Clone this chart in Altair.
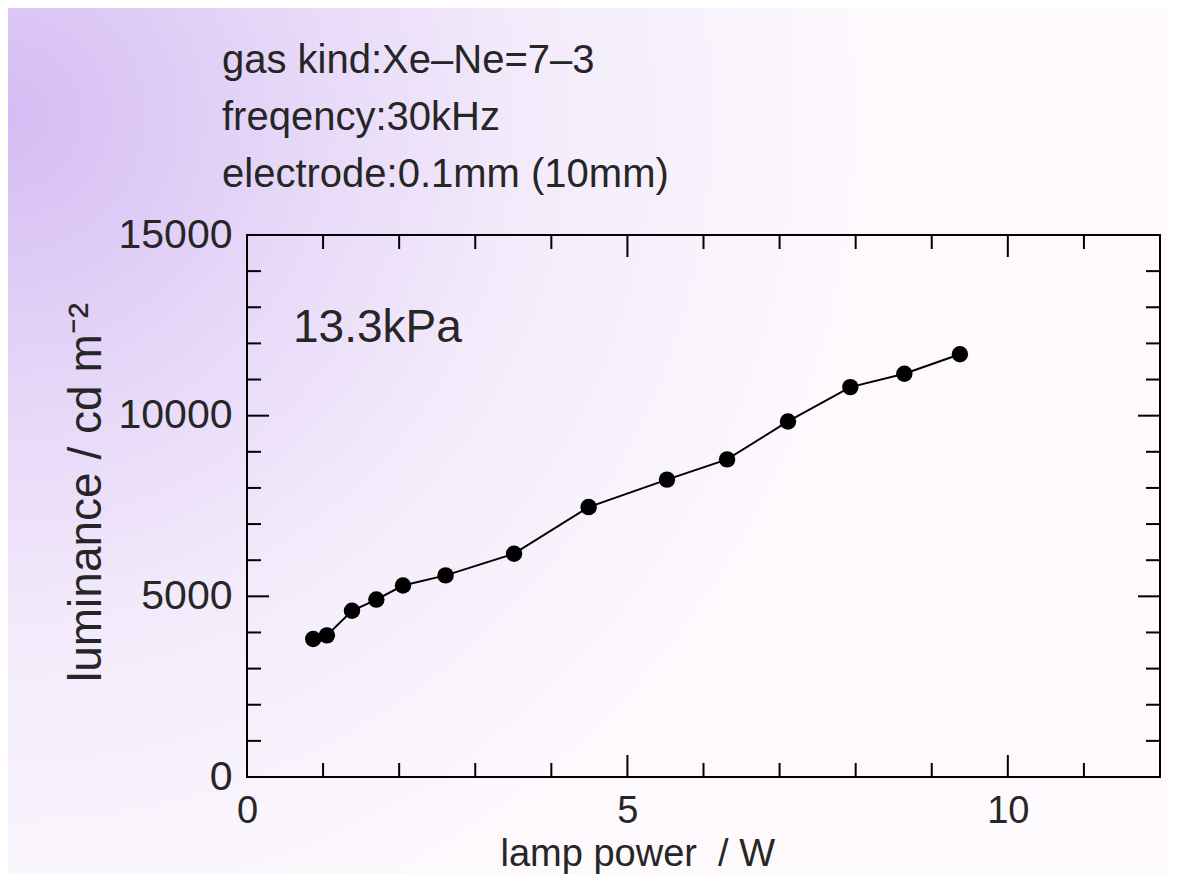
import altair as alt
import pandas as pd

# ---- data ----
power = [0.87, 1.05, 1.38, 1.70, 2.05, 2.61, 3.51, 4.49, 5.52, 6.31, 7.11, 7.93, 8.64, 9.37]
luminance = [3820, 3920, 4600, 4910, 5300, 5580, 6180, 7470, 8230, 8790, 9840, 10790, 11160, 11700]

x_labels = [0, 5, 10]
y_labels = [0, 5000, 10000, 15000]
x_ticks_major = [0, 5, 10]
x_ticks_minor = [1, 2, 3, 4, 6, 7, 8, 9, 11]
y_ticks_major = [0, 5000, 10000, 15000]
y_ticks_minor = [1000, 2000, 3000, 4000, 6000, 7000, 8000, 9000, 11000, 12000, 13000, 14000]

info_lines = ["gas kind:Xe\u2013Ne=7\u20133", "freqency:30kHz", "electrode:0.1mm (10mm)"]
pressure_label = "13.3kPa"
x_title = "lamp power\u00a0 / W"
y_title = "luminance / cd m\u207b\u00b2"

# ---- layout / style ----
W, H = 913, 542
PAD = {"left": 239, "top": 227, "right": 8, "bottom": 97}
FONT = "Liberation Sans"
TXT = "#262626"
MAJ, MIN = 22, 14

df = pd.DataFrame({"power": power, "luminance": luminance})
xscale = alt.Scale(domain=[0, 12], nice=False, zero=False)
yscale = alt.Scale(domain=[0, 15000], nice=False)

x_axis = alt.Axis(
    values=x_labels, ticks=False, domain=False, grid=False,
    labelFont=FONT, labelFontSize=38, labelColor=TXT, labelPadding=15,
    labelFlush=False, labelOverlap=False,
    title=x_title, titleFont=FONT, titleFontSize=38, titleFontWeight="normal",
    titleColor=TXT, titleX=253, titleY=88, titleAlign="left",
    titleBaseline="alphabetic", zindex=2,
)
y_axis = alt.Axis(
    values=y_labels, format="d", ticks=False, domain=False, grid=False,
    labelFont=FONT, labelFontSize=41, labelColor=TXT, labelPadding=15,
    labelFlush=False, labelOverlap=False,
    title=y_title, titleFont=FONT, titleFontSize=46, titleFontWeight="normal",
    titleColor=TXT, titleX=-147, titleY=257, titleAlign="center",
    titleBaseline="alphabetic", zindex=2,
)

def X():
    return alt.X("power:Q", scale=xscale, axis=x_axis)

def Y():
    return alt.Y("luminance:Q", scale=yscale, axis=y_axis)

one = alt.Data(values=[{"a": 1}])

background = alt.Chart(one).mark_rect(
    color=alt.Gradient(
        gradient="radial",
        x1=0.0, y1=0.22, r1=0.0,
        x2=0.0, y2=0.22, r2=0.75,
        stops=[
            alt.GradientStop(offset=0, color="#d5bcf3"),
            alt.GradientStop(offset=0.3, color="#e5d5f8"),
            alt.GradientStop(offset=0.6, color="#f3ebfb"),
            alt.GradientStop(offset=1, color="#fdf9fd"),
        ],
    )
).encode(
    x=alt.value(-PAD["left"]), x2=alt.value(W + PAD["right"]),
    y=alt.value(-PAD["top"]), y2=alt.value(H + PAD["bottom"]),
)

def xticks(vals, length):
    d = pd.DataFrame({"power": vals})
    base = alt.Chart(d).mark_rule(color="black", strokeWidth=2)
    bottom = base.encode(x=X(), y=alt.value(H), y2=alt.value(H - length))
    top = base.encode(x=X(), y=alt.value(0), y2=alt.value(length))
    return [bottom, top]

def yticks(vals, length):
    d = pd.DataFrame({"luminance": vals})
    base = alt.Chart(d).mark_rule(color="black", strokeWidth=2)
    left = base.encode(y=Y(), x=alt.value(0), x2=alt.value(length))
    right = base.encode(y=Y(), x=alt.value(W), x2=alt.value(W - length))
    return [left, right]

frame = alt.Chart(one).mark_rect(filled=False, stroke="black", strokeWidth=2).encode(
    x=alt.value(0), x2=alt.value(W), y=alt.value(0), y2=alt.value(H)
)

line = alt.Chart(df).mark_line(color="black", strokeWidth=2).encode(x=X(), y=Y())
points = alt.Chart(df).mark_circle(color="black", size=270, opacity=1).encode(x=X(), y=Y())

info_y = [-162, -105, -48]
info = [
    alt.Chart(one).mark_text(align="left", baseline="alphabetic", font=FONT,
                             fontSize=40, color=TXT).encode(
        x=alt.value(-25), y=alt.value(yy), text=alt.value(t))
    for t, yy in zip(info_lines, info_y)
]
pressure = alt.Chart(one).mark_text(align="left", baseline="alphabetic", font=FONT,
                                    fontSize=46, color=TXT).encode(
    x=alt.value(46), y=alt.value(107), text=alt.value(pressure_label))

layers = [background]
layers += xticks(x_ticks_major, MAJ) + xticks(x_ticks_minor, MIN)
layers += yticks(y_ticks_major, MAJ) + yticks(y_ticks_minor, MIN)
layers += [frame, line, points] + info + [pressure]

chart = alt.layer(*layers).properties(
    width=W, height=H,
    autosize=alt.AutoSizeParams(type="none"),
    padding=PAD,
).configure_view(stroke="transparent")

chart.save("out.html", embed_options={"renderer": "svg", "actions": False})
